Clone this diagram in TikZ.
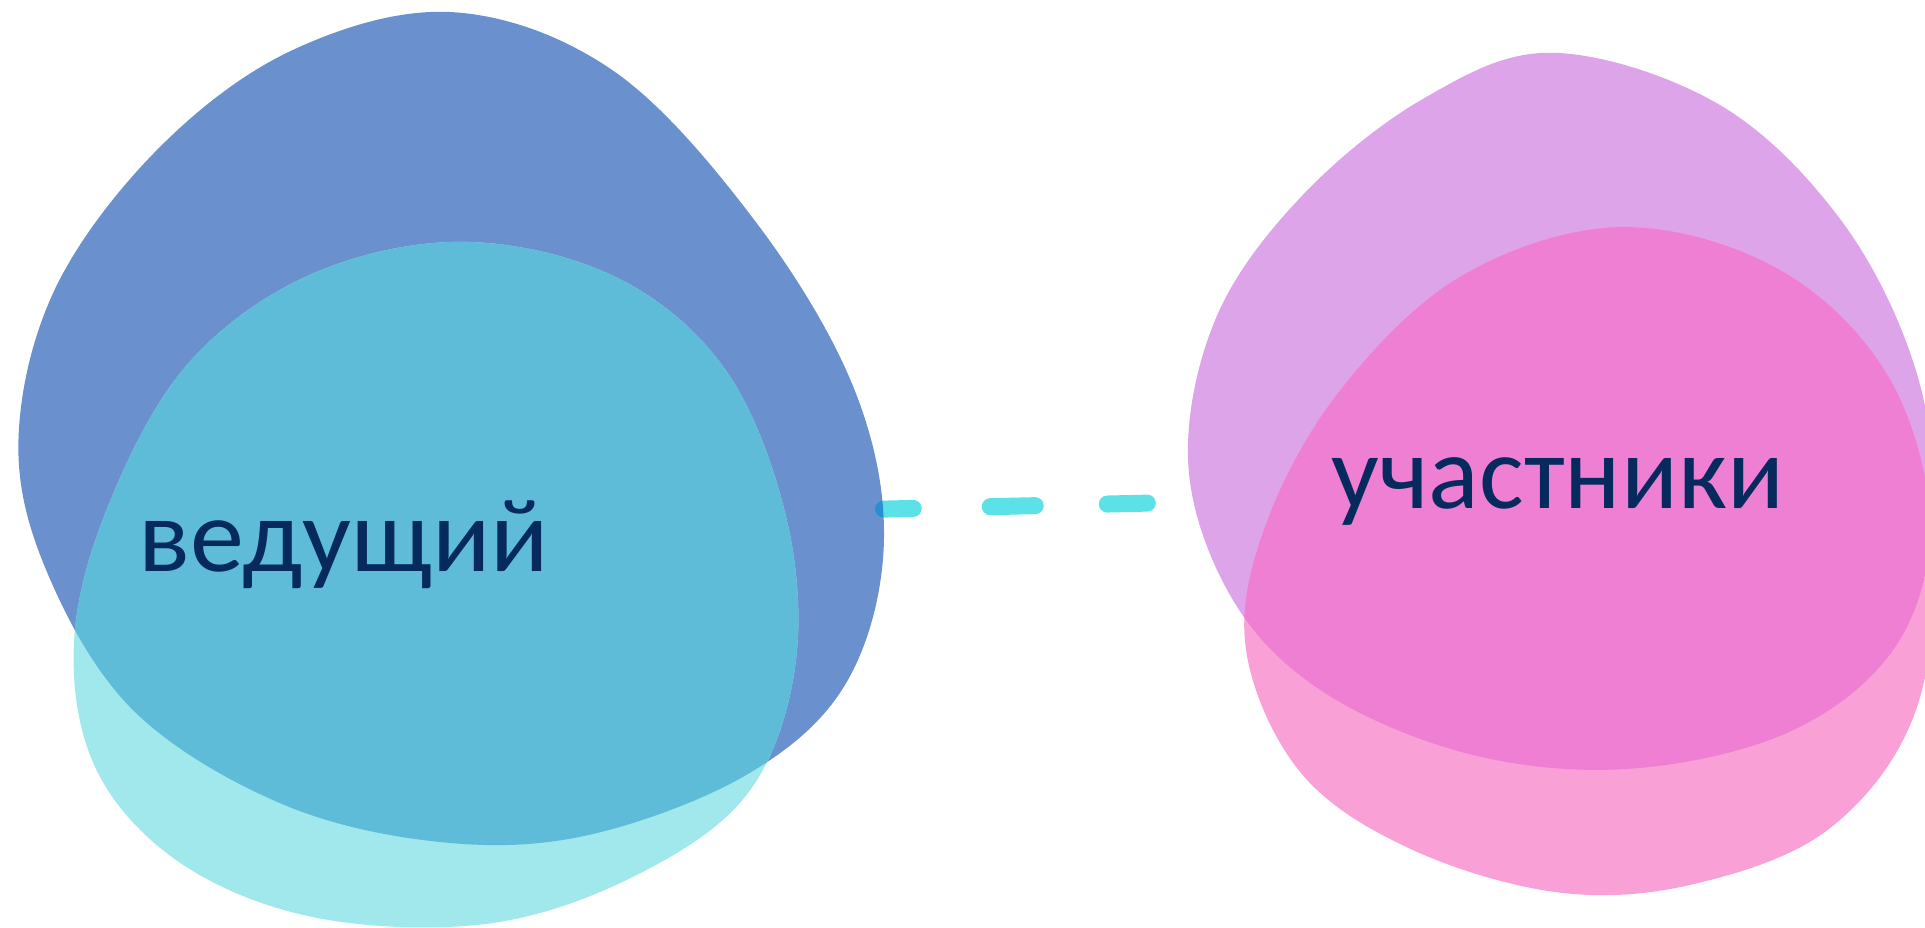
\documentclass[tikz,border=0pt]{standalone}
\usepackage{fontspec}
\setmainfont{Carlito}
\usetikzlibrary{positioning}

\definecolor{leadblue}{HTML}{6A91CD}
\definecolor{leadcyan}{HTML}{A0E8EC}
\definecolor{leadmix}{HTML}{5FBCD9}
\definecolor{partlilac}{HTML}{DEA4EA}
\definecolor{partpink}{HTML}{F9A1D6}
\definecolor{partmix}{HTML}{EE7FD2}
\definecolor{linkcyan}{HTML}{5CE1E6}
\definecolor{linkmix}{HTML}{2A8FCF}
\definecolor{labelnavy}{HTML}{062A5E}

% blob outlines (drawn in a scope scaled by 1.2277)
\newcommand\blobBlue{plot[smooth cycle,tension=0.6] coordinates {(370,10) (500,58) (615,180) (695,315) (720,440) (690,555) (610,630) (480,680) (360,686) (230,655) (110,580) (40,470) (15,360) (45,235) (130,120) (240,40)}}
\newcommand\blobCyan{plot[smooth cycle,tension=0.6] coordinates {(375,197) (500,225) (590,300) (640,420) (648,540) (610,645) (520,712) (400,752) (260,748) (150,705) (80,630) (60,530) (85,420) (150,300) (250,225)}}
\newcommand\blobLilac{plot[smooth cycle,tension=0.6] coordinates {(1265,43) (1400,85) (1500,180) (1560,300) (1575,420) (1545,525) (1460,595) (1330,626) (1200,615) (1080,565) (1005,490) (968,380) (990,260) (1060,160) (1160,80)}}
\newcommand\blobPink{plot[smooth cycle,tension=0.6] coordinates {(1320,185) (1450,220) (1540,310) (1575,440) (1560,580) (1490,675) (1380,720) (1270,727) (1150,692) (1060,630) (1015,530) (1030,430) (1090,320) (1190,225)}}

% label set to a given width, x-height 0.5cm
\newcommand\blobLabel[2]{\resizebox{#1}{0.5cm}{\raisebox{0pt}[\fontcharht\font`x][0pt]{#2}}}

\tikzset{
  blobtext/.style={text=labelnavy, font=\fontsize{30pt}{36pt}\selectfont,
    inner sep=0pt, anchor=base west},
  linkdash/.style={line width=1.7mm, line cap=round,
    dash pattern=on 3mm off 7.7mm on 4.5mm off 7.2mm on 4mm off 20mm}
}

\begin{document}
\begin{tikzpicture}[x=0.01cm,y=-0.01cm]
\useasboundingbox (0,0) rectangle (1925,928);
\clip (0,0) rectangle (1925,928);

\coordinate (linkA) at (883,509);
\coordinate (linkB) at (1148,503);

\begin{scope}[scale=1.2277]
% left pair
\fill[leadblue] \blobBlue;
\fill[leadcyan] \blobCyan;
\begin{scope}
  \clip \blobBlue;
  \fill[leadmix] \blobCyan;
\end{scope}

% right pair
\fill[partlilac] \blobLilac;
\fill[partpink] \blobPink;
\begin{scope}
  \clip \blobLilac;
  \fill[partmix] \blobPink;
\end{scope}

% dashed link, darker where it lies on the blue blob
\draw[linkdash, linkcyan] (linkA) -- (linkB);
\begin{scope}
  \clip \blobBlue;
  \draw[linkdash, linkmix] (linkA) -- (linkB);
\end{scope}
\end{scope}

\node[blobtext] (lead) at (138,572) {\blobLabel{4.1cm}{ведущий}};
\node[blobtext] (part) at (1331,509) {\blobLabel{4.52cm}{участники}};
\end{tikzpicture}
\end{document}
